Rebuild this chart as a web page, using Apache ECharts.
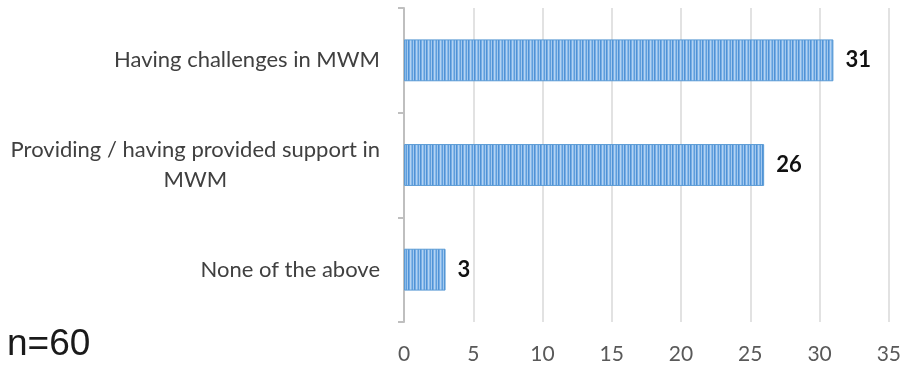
<!DOCTYPE html>
<html>
<head>
<meta charset="utf-8">
<script src="https://cdn.jsdelivr.net/npm/echarts@6/dist/echarts.min.js"></script>
<style>
html, body { margin: 0; padding: 0; background: #fff; }
#mainChart { width: 904px; height: 370px; }
</style>
</head>
<body>
<div id="mainChart"></div>
<script>
var categories = ["Having challenges in MWM", "Providing / having provided support in\nMWM", "None of the above"];
var counts = [31, 26, 3];
var xTicks = [0, 5, 10, 15, 20, 25, 30, 35];
var noteText = "n=60";

// striped fill like the original bars
var stripe = document.createElement("canvas");
stripe.width = 6;
stripe.height = 1;
var sctx = stripe.getContext("2d");
var shades = ["#4f92d6", "#76ade5", "#b4d3f2", "#86b8ea", "#5f9edc", "#a3c9ef"];
for (var i = 0; i < shades.length; i++) {
    sctx.fillStyle = shades[i];
    sctx.fillRect(i, 0, 1, 1);
}

var myChart = echarts.init(document.getElementById("mainChart"));
var option = {
    animation: false,
    graphic: [{
        type: "text",
        left: 7,
        top: 326,
        style: {
            text: noteText,
            font: "37px 'Liberation Sans', Arial, sans-serif",
            fill: "#1a1a1a"
        }
    }],
    grid: {
        left: 404,
        right: 15,
        top: 8,
        bottom: 48
    },
    xAxis: {
        type: "value",
        min: xTicks[0],
        max: xTicks[xTicks.length - 1],
        interval: 5,
        axisLine: { show: false },
        axisTick: { show: false },
        splitLine: {
            lineStyle: { color: "#d9d9d9", width: 1.5 }
        },
        axisLabel: {
            margin: 22,
            color: "#595959",
            fontSize: 21,
            fontFamily: "Lato"
        }
    },
    yAxis: {
        type: "category",
        inverse: true,
        data: categories,
        axisLine: {
            lineStyle: { color: "#bfbfbf", width: 2 }
        },
        axisTick: {
            show: true,
            length: 6,
            lineStyle: { color: "#bfbfbf", width: 2 }
        },
        axisLabel: {
            margin: 24,
            align: "right",
            color: "#404040",
            formatter: function (val) {
                return val.split("\n").map(function (s) {
                    return "{c|" + s + "}";
                }).join("\n");
            },
            rich: {
                c: {
                    align: "center",
                    fontSize: 22,
                    fontFamily: "Lato",
                    color: "#404040",
                    lineHeight: 30
                }
            }
        }
    },
    series: [{
        type: "bar",
        data: counts,
        barWidth: "40%",
        itemStyle: {
            color: { image: stripe, repeat: "repeat" },
            borderColor: "#5b9bd5",
            borderWidth: 1
        },
        label: {
            show: true,
            position: "right",
            distance: 12,
            color: "#111",
            fontSize: 22,
            fontWeight: "bold",
            fontFamily: "Lato"
        }
    }]
};
myChart.setOption(option);
</script>
</body>
</html>
